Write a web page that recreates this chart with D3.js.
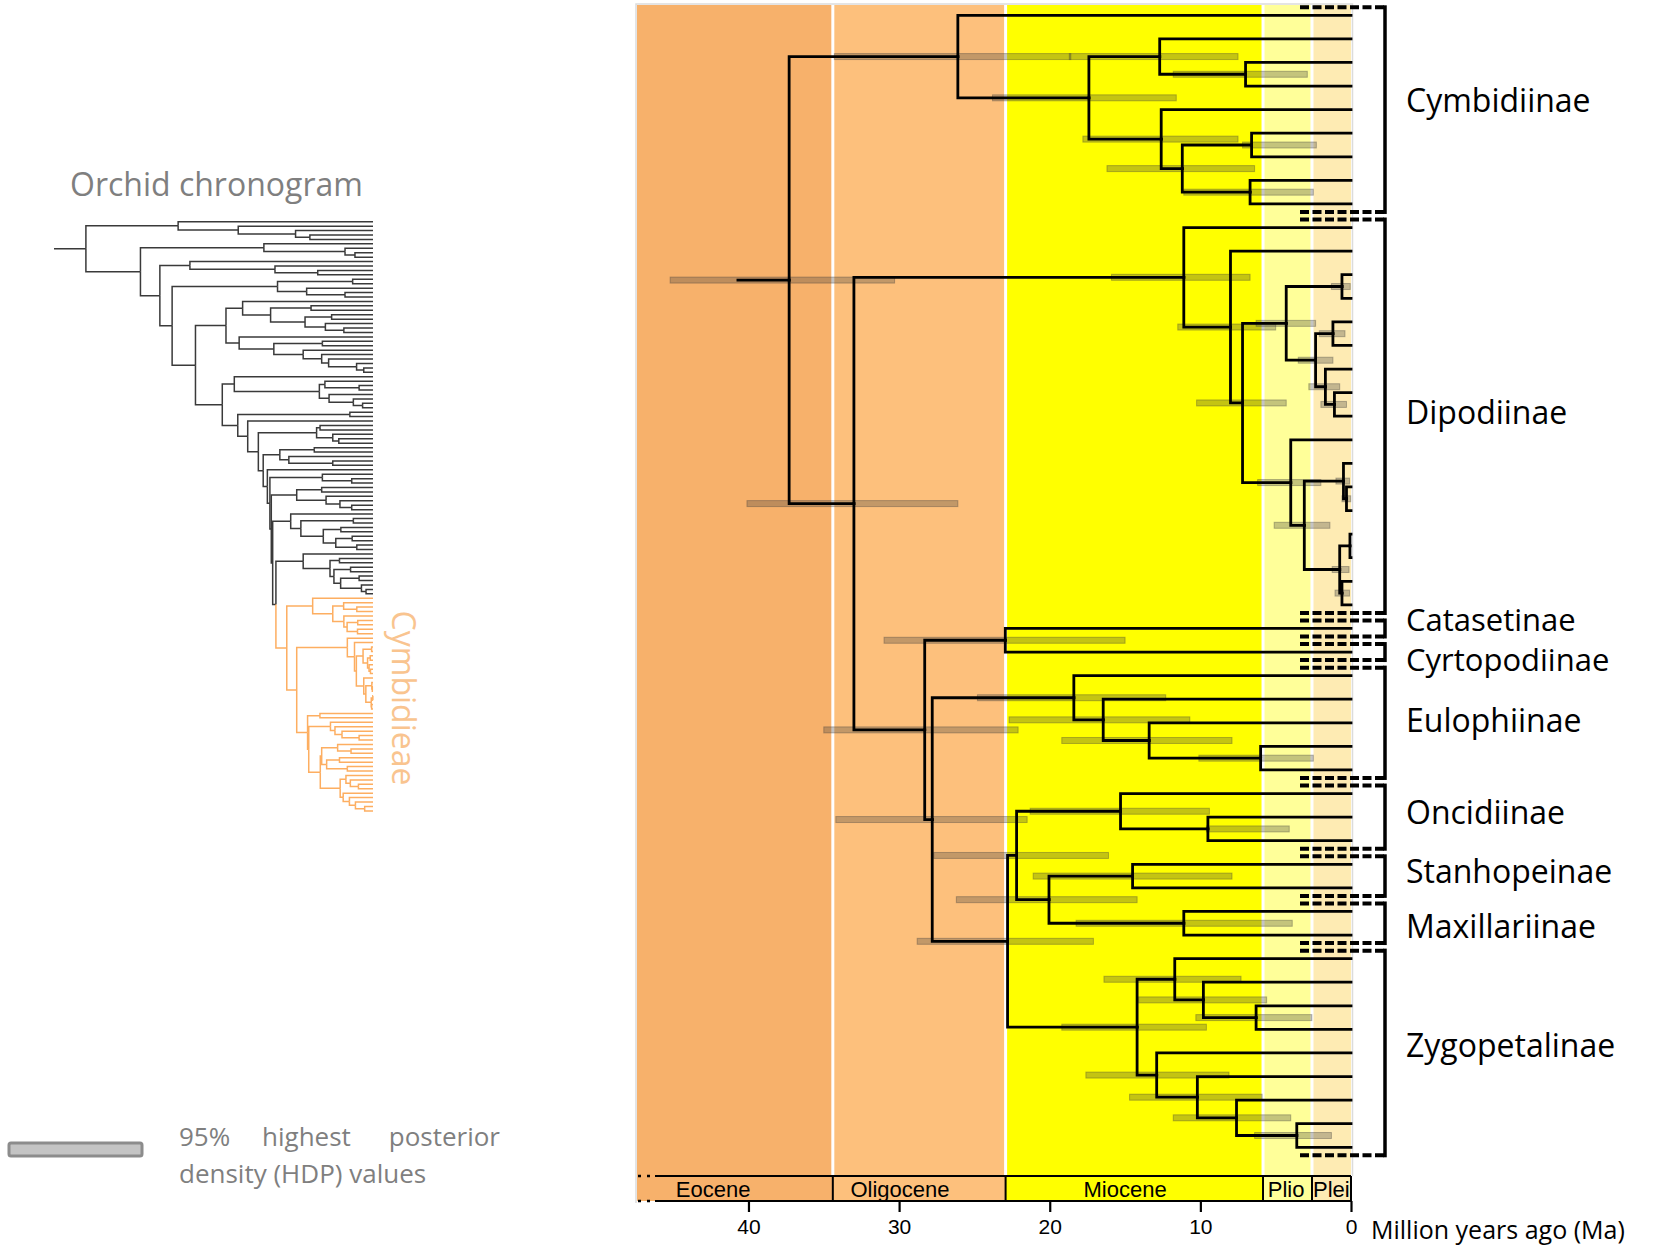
<!DOCTYPE html>
<html>
<head>
<meta charset="utf-8">
<title>Cymbidieae chronogram</title>
<script src="https://cdn.jsdelivr.net/npm/d3@7/dist/d3.min.js"></script>
<style>
  html, body { margin: 0; padding: 0; background: #fff; }
  svg { display: block; }
</style>
</head>
<body>
<div id="chart"></div>
<script>
// ---- data ---------------------------------------------------------------
// Trees in a small newick-like form: leaves are empty, an internal node is
// "(child,child)age[hpdOld-hpdYoung]" with ages in Ma.

// Cymbidieae subtribes (main chronogram)
const cymbidiinae = "(,((,(,)7.0[11.8-2.9])12.7[18.7-7.5],(,((,)6.6[7.2-2.3],(,)6.7[11.1-2.5])11.2[16.2-6.4])12.6[17.8-7.5])17.4[23.8-11.6])26.1[34.3-18.6]";
const dipodiinae = "(,(,(((,)0.6[1.3-0.05],((,)1.2[2.1-0.4],(,(,)1.1[2.0-0.3])1.7[2.8-0.75])2.35[3.5-1.2])4.3[6.3-2.35],(,((,(,)0.3[0.6-0.02])0.5[1.0-0.1],((,)0.07,(,)0.6[1.06-0.1])0.75[1.25-0.13])3.1[5.1-1.4])4.0[6.2-2.0])7.2[10.25-4.3])8.0[11.5-5.0])11.1[15.9-6.7]";
const catasetCyrto = "(,)22.95[31.0-15.0]";
const eulophiinae = "(,(,(,(,)6.0[10.1-2.5])13.4[19.2-7.9])16.45[22.7-10.7])18.4[24.8-12.3]";
const oncidiinae = "(,(,)9.5[9.6-4.1])15.3[21.3-9.4]";
const stanhopeinae = "(,)14.5[21.1-7.9]";
const maxillariinae = "(,)11.1[18.25-3.9]";
const zygopetalinae = "((,(,(,)6.3[10.3-2.6])9.8[14.1-5.6])11.7[16.4-7.3],(,(,(,(,)3.6[6.4-1.3])7.6[11.8-4.0])10.2[14.7-5.9])12.9[17.6-8.1])14.2[19.2-9.6]";
const rootStemAge = 40.7;

const cladeNames = ["Cymbidiinae", "Dipodiinae", "Catasetinae", "Cyrtopodiinae", "Eulophiinae",
                    "Oncidiinae", "Stanhopeinae", "Maxillariinae", "Zygopetalinae"];
const cladeTips = [9, 17, 1, 1, 5, 3, 2, 2, 9];

// geological epochs (Ma)
const epochNames = ["Eocene", "Oligocene", "Miocene", "Plio", "Plei"];
const epochStart = [47.4, 34.4, 22.93, 5.84, 2.59];
const epochEnd = [34.4, 22.93, 5.84, 2.59, 0];
const epochLabelAge = [42.35, 29.94, 15.0, 4.31, 1.3];
const epochColors = ["#F7B16B", "#FDC07C", "#FFFF00", "#FFFF99", "#FEEBB3"];
const axisTicks = [40, 30, 20, 10, 0];

// orchid chronogram thumbnail (backbone, "@" = Cymbidieae)
const thC1 = "(,(,(,(,)27.3)33.5)58.3)84.3";
const thC2 = "(,(,(,)7.8)12.1)47.2";
const thC3 = "(,(,(,)23.9)42.4)79.2";
const thC4 = "((,)8.8,(,(,)12.1)28.7)41.3";
const thG18 = "(,((,)26.8,((,)17.9,(,(,)12.6)20.6)29.4)44.3)56.4";
const thG26 = "(,((,)21.9,(,(,(,(,(,)4.0)7.1)19.2)22.2)30.2)42.9)57.9";
const thG35 = "(,((,(,)6.0)20.8,(,(,(,)4.5)8.5)19.0)23.2)60.0";
const thG43 = "(,)10.0";
const thG46 = "((,)22.9,(,(,)14.8)17.4)24.4";
const thG51 = "((,)25.4,(,(,)17.4)36.4)40.3";
const thG57 = "(,(,)9.2)21.9";
const thG60 = "((,)22.2,(,(,(,)9.2)14.3)20.3)33.0";
const thG66 = "(,((,)8.5,((,)13.9,((,)9.0,(,)7.0)16.1)21.5)31.2)35.6";
const thG75 = "(,((,)14.5,((,)9.7,((,)6.0,(,(,)3.0)5.0)14.0)16.9)18.6)30.2";
const thumbStemAge = 138;

// ---- assemble trees -----------------------------------------------------
const mainNewick = `(${cymbidiinae},(${dipodiinae},(${catasetCyrto},(${eulophiinae},((${oncidiinae},(${stanhopeinae},${maxillariinae})20.05[26.2-14.2])22.2[27.7-16.1],${zygopetalinae})22.8[28.8-17.1])27.8[34.2-21.5])28.3[35.0-22.1])33.0[40.1-26.1])37.3[45.2-30.3]`;

const n42 = `(${thG75},@)42.0`;
const n43 = `(${thG66},${n42})43.4`;
const n44 = `(${thG60},${n43})44.0`;
const n446 = `(${thG57},${n44})44.6`;
const n457 = `(,${n446})45.7`;
const n475 = `(${thG51},${n457})47.5`;
const n496 = `(${thG46},${n475})49.6`;
const n542 = `(,${n496})54.2`;
const n585 = `(${thG43},${n542})58.5`;
const n652 = `(${thG35},${n585})65.2`;
const n768 = `((${thG18},${thG26})63.6,${n652})76.8`;
const thumbNewick = `(${thC1},(${thC2},(${thC3},(${thC4},${n768})86.9)92.2)100.6)124.2`;

function parseTree(s, graft) {
  let i = 0;
  function node() {
    if (s[i] === "@") { i++; return graft(); }
    const n = { children: [] };
    if (s[i] === "(") {
      i++;
      n.children.push(node());
      while (s[i] === ",") { i++; n.children.push(node()); }
      i++;
    }
    const m = /^([\d.]*)(?:\[([\d.]+)-([\d.]+)\])?/.exec(s.slice(i));
    i += m[0].length;
    n.age = m[1] ? +m[1] : 0;
    if (m[2]) n.hpd = [+m[2], +m[3]];
    if (!n.children.length) delete n.children;
    return n;
  }
  return node();
}

function layout(root, xs, ys) {
  let k = 0;
  root.eachAfter(d => {
    d.px = xs(d.data.age);
    if (!d.children) d.py = ys(k++);
    else d.py = (d.children[0].py + d.children[d.children.length - 1].py) / 2;
  });
}

const elbow = l => `M${l.source.px},${l.source.py}V${l.target.py}H${l.target.px}`;

// ---- svg ----------------------------------------------------------------
const W = 1654, H = 1245;
const svg = d3.select("#chart").append("svg")
  .attr("width", W).attr("height", H)
  .style("font-family", "'Open Sans', sans-serif");

// main chart scales
const x = d3.scaleLinear().domain([47.4, 0]).range([637, 1351]);
const nTips = d3.sum(cladeTips);
const y = d3.scaleLinear().domain([0, nTips - 1]).range([15.3, 1147.3]);
const plotTop = 5, bandTop = 1176, bandBottom = 1201;

// epoch background
const bg = svg.append("g");
epochNames.forEach((name, i) => {
  bg.append("rect")
    .attr("x", x(epochStart[i])).attr("y", plotTop)
    .attr("width", x(epochEnd[i]) - x(epochStart[i]))
    .attr("height", bandTop - plotTop)
    .attr("fill", epochColors[i]);
});
epochStart.slice(1).forEach(a => {
  bg.append("line")
    .attr("x1", x(a)).attr("x2", x(a)).attr("y1", plotTop).attr("y2", bandTop)
    .attr("stroke", "#fff").attr("stroke-width", 3);
});
// faint frame
bg.append("path")
  .attr("d", `M${x(47.4) - 1},${bandBottom + 2}V${plotTop - 1}H${x(0) + 1.5}V${bandTop}`)
  .attr("fill", "none").attr("stroke", "#dcdcdc").attr("stroke-width", 1.5);

// main tree
const mainRoot = d3.hierarchy(parseTree(mainNewick));
layout(mainRoot, x, y);

const hpdG = svg.append("g");
hpdG.selectAll("rect")
  .data(mainRoot.descendants().filter(d => d.data.hpd))
  .join("rect")
  .attr("x", d => x(d.data.hpd[0]))
  .attr("y", d => d.py - 3)
  .attr("width", d => x(d.data.hpd[1]) - x(d.data.hpd[0]))
  .attr("height", 6)
  .attr("fill", "rgba(60,60,60,0.3)")
  .attr("stroke", "rgba(60,60,60,0.35)")
  .attr("stroke-width", 1);

const treeG = svg.append("g")
  .attr("fill", "none").attr("stroke", "#000").attr("stroke-width", 2.8)
  .attr("stroke-linecap", "square");
treeG.selectAll("path")
  .data(mainRoot.links())
  .join("path")
  .attr("d", elbow);
treeG.append("line")
  .attr("x1", x(rootStemAge)).attr("x2", mainRoot.px)
  .attr("y1", mainRoot.py).attr("y2", mainRoot.py);

// epoch band
const band = svg.append("g");
epochNames.forEach((name, i) => {
  band.append("rect")
    .attr("x", x(epochStart[i])).attr("y", bandTop)
    .attr("width", x(epochEnd[i]) - x(epochStart[i]))
    .attr("height", bandBottom - bandTop)
    .attr("fill", epochColors[i]);
  band.append("text")
    .attr("x", x(epochLabelAge[i])).attr("y", (bandTop + bandBottom) / 2 + 1)
    .attr("text-anchor", "middle").attr("dominant-baseline", "central")
    .style("font-family", "'Liberation Sans', Arial, sans-serif")
    .style("font-size", "22px")
    .text(name);
});
const bandLeftSolid = x(47.4) + 18;
[bandTop, bandBottom].forEach(yy => {
  band.append("line")
    .attr("x1", bandLeftSolid).attr("x2", x(0)).attr("y1", yy).attr("y2", yy)
    .attr("stroke", "#000").attr("stroke-width", 2);
  band.append("line")
    .attr("x1", x(47.4) + 1).attr("x2", bandLeftSolid).attr("y1", yy).attr("y2", yy)
    .attr("stroke", "#000").attr("stroke-width", 2.5).attr("stroke-dasharray", "3,6");
});
epochEnd.forEach(a => {
  band.append("line")
    .attr("x1", x(a)).attr("x2", x(a)).attr("y1", bandTop).attr("y2", bandBottom)
    .attr("stroke", "#000").attr("stroke-width", 2);
});

// time axis
const axisG = svg.append("g")
  .attr("transform", `translate(0,${bandBottom})`)
  .call(d3.axisBottom(x).tickValues(axisTicks).tickSize(11).tickPadding(7).tickFormat(d3.format("d")));
axisG.select(".domain").remove();
axisG.selectAll(".tick line").attr("stroke", "#000").attr("stroke-width", 2.2);
axisG.selectAll(".tick text")
  .attr("fill", "#000")
  .style("font-family", "'Liberation Sans', Arial, sans-serif")
  .style("font-size", "21px");
svg.append("text")
  .attr("x", 1371).attr("y", 1229)
  .attr("dominant-baseline", "central")
  .style("font-size", "25px")
  .text("Million years ago (Ma)");

// clade brackets
const brG = svg.append("g");
const labelNudge = [-10, -5, -9, 7, -3, -6, -6, 2, -8];
let first = 0;
cladeNames.forEach((name, i) => {
  const top = y(first) - 8;
  const bot = y(first + cladeTips[i] - 1) + 8;
  const bx = 1385;
  [top, bot].forEach(yy => {
    brG.append("line")
      .attr("x1", 1300).attr("x2", bx + 2).attr("y1", yy).attr("y2", yy)
      .attr("stroke", "#000").attr("stroke-width", 4).attr("stroke-dasharray", "9,3.5");
  });
  brG.append("line")
    .attr("x1", bx).attr("x2", bx).attr("y1", top - 2).attr("y2", bot + 2)
    .attr("stroke", "#000").attr("stroke-width", 3.5);
  brG.append("text")
    .attr("x", 1406).attr("y", (top + bot) / 2 + labelNudge[i])
    .attr("dominant-baseline", "central")
    .style("font-size", cladeTips[i] === 1 ? "31px" : "32px")
    .text(name);
  first += cladeTips[i];
});

// ---- thumbnail ----------------------------------------------------------
svg.append("text")
  .attr("x", 70).attr("y", 183)
  .attr("dominant-baseline", "central")
  .attr("fill", "#7f7f7f")
  .style("font-size", "32px")
  .text("Orchid chronogram");

const thumbData = parseTree(thumbNewick, () => {
  const sub = parseTree(mainNewick);
  (function mark(n) { n.orange = true; (n.children || []).forEach(mark); })(sub);
  return sub;
});
const thumbRoot = d3.hierarchy(thumbData);
const xT = d3.scaleLinear().domain([thumbStemAge, 0]).range([54, 373]);
const nThumb = thumbRoot.leaves().length;
const yT = d3.scaleLinear().domain([0, nThumb - 1]).range([221.7, 810.9]);
layout(thumbRoot, xT, yT);

const thumbG = svg.append("g").attr("fill", "none").attr("stroke-width", 1.5);
thumbG.selectAll("path")
  .data(thumbRoot.links())
  .join("path")
  .attr("d", elbow)
  .attr("stroke", d => d.target.data.orange ? "#FDAE61" : "#3a3a3a");
thumbG.append("line")
  .attr("x1", xT(thumbStemAge)).attr("x2", thumbRoot.px)
  .attr("y1", thumbRoot.py).attr("y2", thumbRoot.py)
  .attr("stroke", "#3a3a3a");

svg.append("text")
  .attr("transform", "translate(392,698) rotate(90)")
  .attr("text-anchor", "middle")
  .attr("fill", "#F9C48F")
  .style("font-size", "32px")
  .text("Cymbidieae");

// ---- legend -------------------------------------------------------------
svg.append("rect")
  .attr("x", 9).attr("y", 1143).attr("width", 133).attr("height", 13).attr("rx", 2)
  .attr("fill", "#c4c4c4").attr("stroke", "#8c8c8c").attr("stroke-width", 3);
const legText = svg.append("g").attr("fill", "#7f7f7f").style("font-size", "26px");
legText.append("text").attr("x", 179).attr("y", 1136).attr("dominant-baseline", "central").text("95%");
legText.append("text").attr("x", 262).attr("y", 1136).attr("dominant-baseline", "central").text("highest");
legText.append("text").attr("x", 500).attr("y", 1136).attr("dominant-baseline", "central")
  .attr("text-anchor", "end").text("posterior");
legText.append("text").attr("x", 179).attr("y", 1173).attr("dominant-baseline", "central")
  .text("density (HDP) values");
</script>
</body>
</html>
